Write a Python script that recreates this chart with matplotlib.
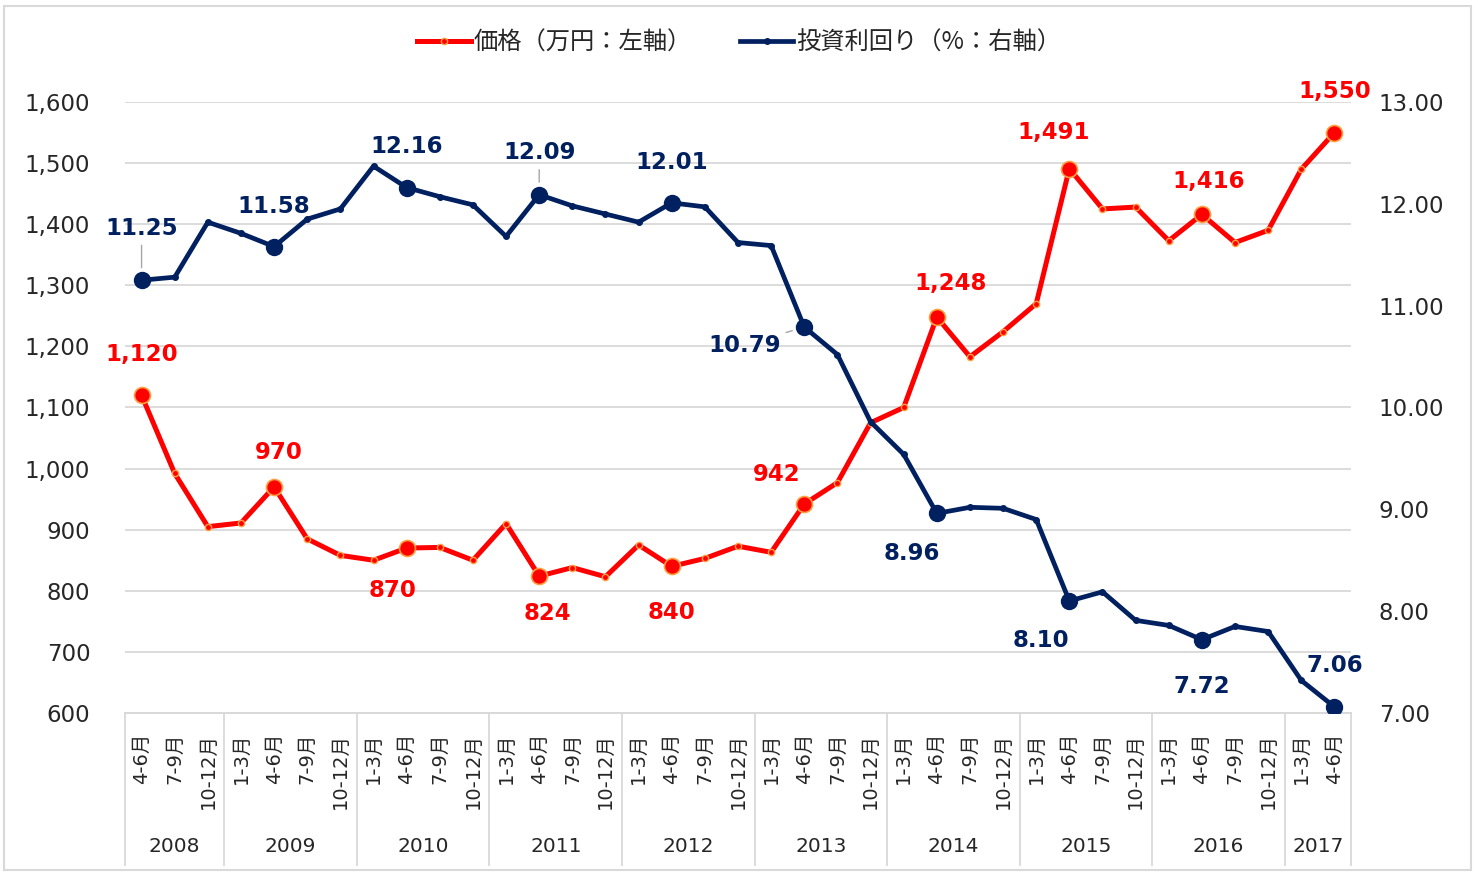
import matplotlib
matplotlib.use("Agg")
import matplotlib.pyplot as plt
from matplotlib.lines import Line2D
from matplotlib.patches import Rectangle
from matplotlib.ticker import FuncFormatter
import matplotlib.transforms as mtransforms

plt.rcParams['font.family'] = ['DejaVu Sans', 'Noto Sans CJK JP']

# ------------------------
# Data
# ------------------------
year_names = ["2008", "2009", "2010", "2011", "2012", "2013", "2014", "2015", "2016", "2017"]
year_counts = [3, 4, 4, 4, 4, 4, 4, 4, 4, 2]
quarters = (["4-6月", "7-9月", "10-12月"]
            + ["1-3月", "4-6月", "7-9月", "10-12月"] * 8
            + ["1-3月", "4-6月"])

price = [1120, 992, 905, 911, 970, 885, 858, 850, 870, 871, 850, 910,
         824, 838, 823, 875, 840, 853, 873, 863, 942, 977, 1075, 1100,
         1248, 1183, 1224, 1270, 1491, 1425, 1428, 1373, 1416, 1370, 1390, 1490,
         1550]
yields = [11.25, 11.28, 11.82, 11.71, 11.58, 11.85, 11.95, 12.37, 12.16, 12.07, 11.99, 11.68,
          12.09, 11.98, 11.90, 11.82, 12.01, 11.97, 11.62, 11.59, 10.79, 10.52, 9.86, 9.54,
          8.96, 9.02, 9.01, 8.90, 8.10, 8.19, 7.91, 7.86, 7.72, 7.85, 7.80, 7.32,
          7.06]

# every 4-6月 point is highlighted and labelled
hl_idx = [0, 4, 8, 12, 16, 20, 24, 28, 32, 36]

# label offsets in pixels (dx, dy) from the marker
price_off = {0: (0, 41), 4: (5, 34), 8: (-14, -42), 12: (8, -37), 16: (0, -46),
             20: (-28, 30), 24: (14, 34), 28: (-16, 36), 32: (7, 33), 36: (0, 41)}
yield_off = {0: (0, 52), 4: (0, 40), 8: (0, 41), 12: (0, 42), 16: (0, 40),
             20: (-60, -18), 24: (-25, -40), 28: (-28, -40), 32: (0, -47), 36: (0, 41)}
leaders = {0, 12, 20}

RED = "#FF0000"
ORANGE = "#FFA040"
NAVY = "#002060"
GRID = "#D9D9D9"
TXT = "#262626"

W, H = 1478, 874
fig = plt.figure(figsize=(W / 100, H / 100), dpi=100)
ax = fig.add_axes([125 / W, (H - 713) / H, (1351 - 125) / W, (713 - 102) / H])
ax2 = ax.twinx()

x = list(range(len(price)))

# price line (left axis)
ax.plot(x, price, color=RED, lw=3.6, marker='o', ms=4.5, mfc=RED, mec=ORANGE, mew=1,
        zorder=3, label="価格（万円：左軸）")
ax.plot([x[i] for i in hl_idx], [price[i] for i in hl_idx], ls='none', marker='o',
        ms=11.5, mfc=RED, mec=ORANGE, mew=1.2, zorder=4)

# yield line (right axis)
ax2.plot(x, yields, color=NAVY, lw=3.4, marker='o', ms=4, mfc=NAVY, mec=NAVY,
         zorder=3, label="投資利回り（%：右軸）")
ax2.plot([x[i] for i in hl_idx], [yields[i] for i in hl_idx], ls='none', marker='o',
         ms=11.5, mfc=NAVY, mec=NAVY, zorder=4)

ax.set_xlim(-0.5, len(price) - 0.5)
ax.set_ylim(600, 1600)
ax2.set_ylim(7, 13)
ax.set_yticks(range(600, 1601, 100))
ax2.set_yticks(range(7, 14))
ax.yaxis.set_major_formatter(FuncFormatter(lambda v, p: f"{int(v):,}"))
ax2.yaxis.set_major_formatter(FuncFormatter(lambda v, p: f"{v:.2f}"))
ax.tick_params(axis='y', length=0, pad=25, labelsize=16.5, labelcolor=TXT)
ax2.tick_params(axis='y', length=0, pad=20, labelsize=16.5, labelcolor=TXT)
ax.set_xticks([])
ax.yaxis.grid(True, color=GRID, lw=1.3)
ax.set_axisbelow(True)
for a in (ax, ax2):
    for s in ("top", "left", "right"):
        a.spines[s].set_visible(False)
    a.spines["bottom"].set_color(GRID)
    a.spines["bottom"].set_linewidth(1.3)

# data labels
for i in hl_idx:
    dx, dy = price_off[i]
    ax.annotate(f"{price[i]:,}", (x[i], price[i]), xytext=(dx, dy), textcoords='offset pixels',
                ha='center', va='center', fontsize=16.5, fontweight='bold', color=RED, zorder=5)
    dx, dy = yield_off[i]
    arrow = dict(arrowstyle='-', color='#A6A6A6', lw=1, shrinkA=2, shrinkB=9) if i in leaders else None
    ax2.annotate(f"{yields[i]:.2f}", (x[i], yields[i]), xytext=(dx, dy), textcoords='offset pixels',
                 ha='center', va='center', fontsize=16.5, fontweight='bold', color=NAVY,
                 arrowprops=arrow, zorder=5)

# multi-level category axis
trans = mtransforms.blended_transform_factory(ax.transData, ax.transAxes)
axh = 713 - 102
for i, q in enumerate(quarters):
    ax.text(i, -20 / axh, q, transform=trans, rotation=90, ha='center', va='top',
            fontsize=14, color=TXT)
start = -0.5
ax.add_line(Line2D([start, start], [0, -152 / axh], transform=trans, color=GRID, lw=1.3,
                   clip_on=False))
for name, n in zip(year_names, year_counts):
    end = start + n
    ax.text((start + end) / 2, -134 / axh, name, transform=trans, ha='center', va='center',
            fontsize=14.5, color=TXT)
    ax.add_line(Line2D([end, end], [0, -152 / axh], transform=trans, color=GRID, lw=1.3,
                       clip_on=False))
    start = end

# legend
h1, l1 = ax.get_legend_handles_labels()
h2, l2 = ax2.get_legend_handles_labels()
fig.legend(h1 + h2, l1 + l2, loc='center', bbox_to_anchor=(0.5, 1 - 43 / H), ncol=2,
           frameon=False, prop={'family': ['Noto Sans CJK JP'], 'size': 17.5},
           handlelength=2.2, handletextpad=0.1, columnspacing=2.0, labelcolor=TXT)

# chart border
fig.add_artist(Rectangle((4 / W, 4 / H), (1471 - 4) / W, (868 - 4) / H, transform=fig.transFigure,
                         fill=False, ec=GRID, lw=1.5))

fig.savefig("out.png", dpi=100)
